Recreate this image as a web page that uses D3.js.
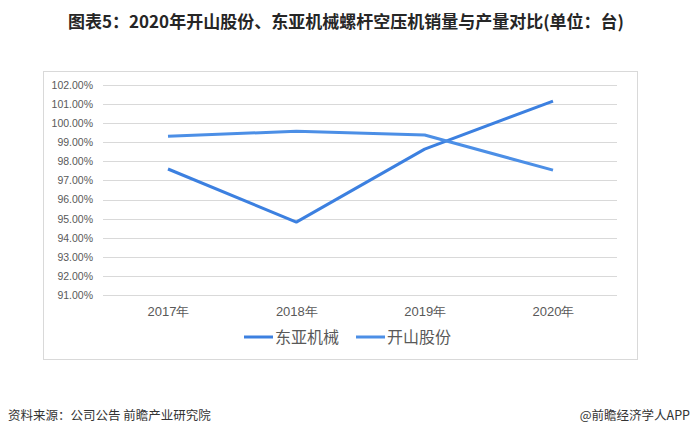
<!DOCTYPE html>
<html><head><meta charset="utf-8">
<script src="https://cdn.jsdelivr.net/npm/d3@7/dist/d3.min.js"></script>
<style>body{margin:0;background:#fff;}svg{display:block;font-family:"Microsoft YaHei","Noto Sans CJK SC",sans-serif;}</style>
</head><body>
<script>
const categories = ["2017年","2018年","2019年","2020年"];
const dongya = [97.60, 94.82, 98.64, 101.16];
const kaishan = [99.31, 99.58, 99.38, 97.54];
const seriesNames = ["东亚机械","开山股份"];
const yTicks = [91,92,93,94,95,96,97,98,99,100,101,102];
const titleText = "图表5：2020年开山股份、东亚机械螺杆空压机销量与产量对比(单位：台)";
const sourceText = "资料来源：公司公告 前瞻产业研究院";
const brandText = "@前瞻经济学人APP";
const colors = ["#3C80E0","#4C8FE6"];

const W=693,H=436;
const svg=d3.select("body").append("svg").attr("width",W).attr("height",H);

svg.append("text").attr("x",346).attr("y",28).attr("text-anchor","middle")
  .attr("font-size",17).attr("font-weight","bold").attr("fill","#262626").text(titleText);

// chart frame
svg.append("rect").attr("x",43.5).attr("y",71.5).attr("width",594).attr("height",288)
  .attr("fill","none").attr("stroke","#d9d9d9");

const x=d3.scalePoint().domain(categories).range([168,553]);
const y=d3.scaleLinear().domain([91,102]).range([295,85]);

const grid=svg.append("g");
grid.selectAll("line").data(yTicks).join("line")
  .attr("x1",103).attr("x2",617).attr("y1",d=>Math.round(y(d))+0.5).attr("y2",d=>Math.round(y(d))+0.5)
  .attr("stroke","#d9d9d9");

const yAxis=d3.axisLeft(y).tickValues(yTicks).tickFormat(d=>d.toFixed(2)+"%").tickSize(0).tickPadding(0);
const ya=svg.append("g").attr("transform","translate(93,0)").call(yAxis);
ya.select(".domain").remove();
ya.selectAll("text").attr("font-size",10.5).attr("fill","#595959").attr("font-family","Arial, 'Liberation Sans', sans-serif");

const xAxis=d3.axisBottom(x).tickSize(0).tickPadding(0);
const xa=svg.append("g").attr("transform","translate(0,307)").call(xAxis);
xa.select(".domain").remove();
xa.selectAll("text").attr("font-size",13).attr("fill","#595959");

const line=d3.line().x((d,i)=>x(categories[i])).y(d=>y(d));
[dongya,kaishan].forEach((s,k)=>{
  svg.append("path").datum(s).attr("d",line).attr("fill","none")
    .attr("stroke",colors[k]).attr("stroke-width",3).attr("stroke-linejoin","round");
});

// legend
const lx=[244,356];
seriesNames.forEach((n,k)=>{
  svg.append("line").attr("x1",lx[k]).attr("x2",lx[k]+29).attr("y1",337).attr("y2",337)
    .attr("stroke",colors[k]).attr("stroke-width",3);
  svg.append("text").attr("x",lx[k]+31).attr("y",343).attr("font-size",16).attr("fill","#595959").text(n);
});

svg.append("text").attr("x",8).attr("y",420).attr("font-size",12.5).attr("fill","#333").text(sourceText);
svg.append("text").attr("x",690).attr("y",420).attr("text-anchor","end").attr("font-size",12.5).attr("fill","#333").text(brandText);
</script>
</body></html>
